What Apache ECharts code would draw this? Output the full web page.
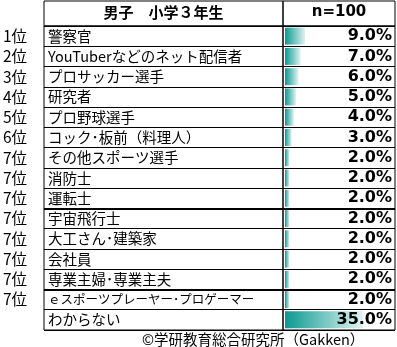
<!DOCTYPE html>
<html>
<head>
<meta charset="utf-8">
<script src="https://cdn.jsdelivr.net/npm/echarts@6/dist/echarts.min.js"></script>
<style>
  html, body { margin: 0; padding: 0; background: #fff; }
  #chart { width: 397px; height: 347px; }
</style>
</head>
<body>
<div id="chart"></div>
<script>
// 表のデータ
const ranks = ['1位', '2位', '3位', '4位', '5位', '6位', '7位', '7位', '7位', '7位', '7位', '7位', '7位', '7位', ''];
const jobs = [
  '警察官',
  'YouTuberなどのネット配信者',
  'プロサッカー選手',
  '研究者',
  'プロ野球選手',
  'コック･板前（料理人）',
  'その他スポーツ選手',
  '消防士',
  '運転士',
  '宇宙飛行士',
  '大工さん･建築家',
  '会社員',
  '専業主婦･専業主夫',
  'ｅスポーツプレーヤー･プロゲーマー',
  'わからない'
];
const shares = [9.0, 7.0, 6.0, 5.0, 4.0, 3.0, 2.0, 2.0, 2.0, 2.0, 2.0, 2.0, 2.0, 2.0, 35.0];
const percentLabels = shares.map(v => v.toFixed(1) + '%');
const headerTitle = '男子　小学３年生';
const headerN = 'n=100';
const sourceNote = '©学研教育総合研究所（Gakken）';
// 太線の位置（行の区切り）
const thickRows = [9, 13];

const JP_FONT = '"Noto Sans CJK JP", "Noto Sans", sans-serif';
const NUM_FONT = '"DejaVu Sans", Verdana, sans-serif';
const NAME_SIZE = 14.5;

// セル幅に収まらない職業名は小さめの文字にする
const measureCtx = document.createElement('canvas').getContext('2d');
measureCtx.font = NAME_SIZE + 'px ' + JP_FONT;
const tooWide = (text) => measureCtx.measureText(text).width > 228;

const chart = echarts.init(document.getElementById('chart'), null, { renderer: 'canvas' });

const border = { show: true, borderColor: '#000', borderWidth: 1, backgroundColor: 'transparent' };
const hiddenValue = (gridIndex, extra = {}) => ({ type: 'value', gridIndex, show: false, ...extra });
const rowLines = { show: true, interval: 0, lineStyle: { color: '#000', width: 1 } };

const option = {
  animation: false,
  title: [
    {
      text: headerTitle, left: 163.5, top: 5, textAlign: 'center', padding: 0,
      textStyle: { fontFamily: JP_FONT, fontSize: 15, fontWeight: 'bold', color: '#000' }
    },
    {
      text: headerN, left: 339, top: 5, textAlign: 'center', padding: 0,
      textStyle: { fontFamily: NUM_FONT, fontSize: 15, fontWeight: 'bold', color: '#000' }
    },
    {
      text: sourceNote, left: 142, top: 332, padding: 0,
      textStyle: { fontFamily: JP_FONT, fontSize: 14.5, fontWeight: 'normal', color: '#000' }
    }
  ],
  grid: [
    { left: 44, top: 1, width: 239, height: 25, ...border },   // 見出し左
    { left: 283, top: 1, width: 112, height: 25, ...border },  // 見出し右
    { left: 0, top: 26, width: 44, height: 304, show: false }, // 順位
    { left: 44, top: 26, width: 239, height: 304, ...border }, // 職業
    { left: 283, top: 26, width: 112, height: 304, ...border }, // 割合
    { left: 44, top: 26, width: 351, height: 304, show: false } // 太線用
  ],
  xAxis: [
    hiddenValue(0),
    hiddenValue(1),
    hiddenValue(2),
    hiddenValue(3),
    hiddenValue(4, { min: -0.9, max: 49.35 }),
    hiddenValue(5, { min: 0, max: 1 })
  ],
  yAxis: [
    hiddenValue(0),
    hiddenValue(1),
    {
      type: 'category', gridIndex: 2, data: ranks, inverse: true, position: 'left',
      axisLine: { show: false }, axisTick: { show: false }, splitLine: { show: false },
      axisLabel: { inside: true, interval: 0, margin: 2, fontFamily: JP_FONT, fontSize: 15.5, color: '#000' }
    },
    {
      type: 'category', gridIndex: 3, data: jobs, inverse: true, position: 'left',
      axisLine: { show: false }, axisTick: { show: false }, splitLine: rowLines,
      axisLabel: {
        inside: true, interval: 0, margin: 4,
        fontFamily: JP_FONT, fontSize: NAME_SIZE, color: '#000',
        formatter: (value) => tooWide(value) ? '{small|' + value + '}' : value,
        rich: { small: { fontFamily: JP_FONT, fontSize: 12.5, color: '#000' } }
      }
    },
    {
      type: 'category', gridIndex: 4, data: jobs, inverse: true, position: 'left', z: 5,
      axisLine: { show: false }, axisTick: { show: false }, splitLine: rowLines,
      axisLabel: {
        inside: true, interval: 0, hideOverlap: false, margin: 109, align: 'right',
        formatter: (value, index) => percentLabels[index],
        fontFamily: NUM_FONT, fontSize: 16, fontWeight: 'bold', color: '#000'
      }
    },
    hiddenValue(5, { min: 0, max: 15, inverse: true })
  ],
  series: [
    {
      type: 'bar',
      xAxisIndex: 4,
      yAxisIndex: 4,
      data: shares,
      barWidth: 17,
      silent: true,
      z: 1,
      itemStyle: {
        color: new echarts.graphic.LinearGradient(0, 0, 1, 0, [
          { offset: 0, color: '#0a9991' },
          { offset: 1, color: '#e2f3f2' }
        ])
      }
    },
    {
      type: 'line',
      xAxisIndex: 5,
      yAxisIndex: 5,
      data: [],
      silent: true,
      markLine: {
        silent: true,
        symbol: ['none', 'none'],
        label: { show: false },
        lineStyle: { color: '#000', width: 2, type: 'solid' },
        data: thickRows.map(r => ({ yAxis: r }))
      }
    }
  ]
};

chart.setOption(option);
</script>
</body>
</html>
